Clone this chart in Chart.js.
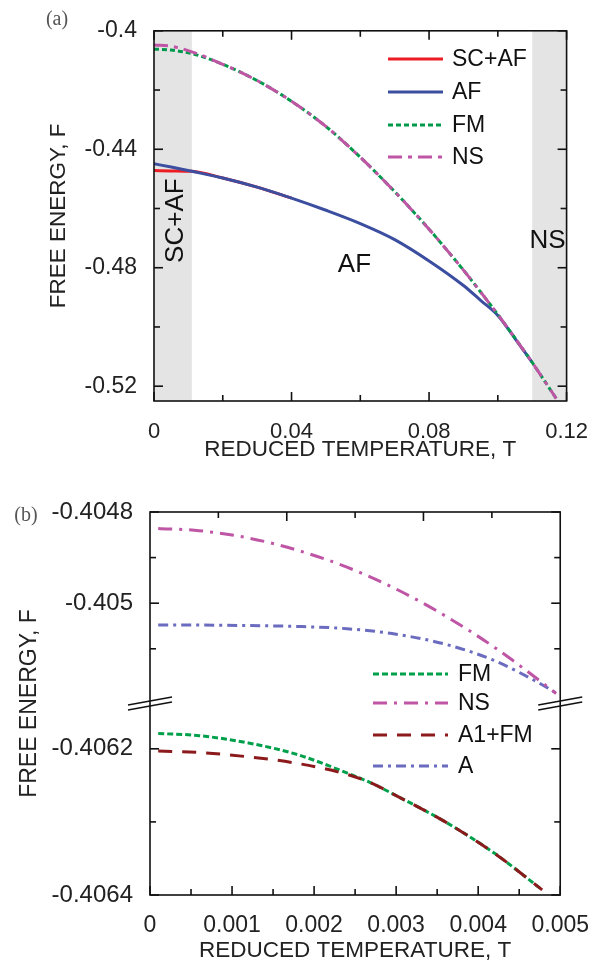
<!DOCTYPE html>
<html>
<head>
<meta charset="utf-8">
<script src="https://cdn.jsdelivr.net/npm/chart.js@4.4.0/dist/chart.umd.min.js"></script>
<style>
  html, body { margin: 0; padding: 0; background: #fff; overflow: hidden; width: 606px; height: 962px; }
  #wa { position: absolute; left: 0; top: 0; width: 606px; height: 470px; }
  #wb { position: absolute; left: 0; top: 478px; width: 606px; height: 490px; }
</style>
</head>
<body>
<div id="wa"><canvas id="ca"></canvas></div>
<div id="wb"><canvas id="cb"></canvas></div>
<script>
// ---- panel (a) data ----
const tA    = [0, 0.005, 0.011, 0.02, 0.03, 0.04, 0.05, 0.06, 0.07, 0.08, 0.09, 0.095, 0.10, 0.105, 0.11, 0.117];
const scafA = [-0.4472, -0.4473, -0.44745, -0.4497, -0.4528, -0.4565, null, null, null, null, null, null, null, null, null, null];
const afA   = [-0.4449, -0.4460, -0.44745, -0.4497, -0.4528, -0.4565, -0.4606, -0.4651, -0.4705, -0.4777, -0.4860, -0.4910, -0.4961, -0.5039, -0.5120, null];
const fmA   = [-0.4062, -0.4065, -0.4077, -0.4113, -0.4168, -0.4238, -0.4323, -0.4427, -0.4543, -0.4670, -0.4808, -0.4882, -0.4958, -0.5038, -0.5120, -0.5242];
const nsA   = [-0.4048, -0.4052, -0.4071, -0.4113, -0.4168, -0.4238, -0.4323, -0.4427, -0.4543, -0.4670, -0.4808, -0.4882, -0.4958, -0.5038, -0.5120, -0.5242];
const bandsA = [[0, 0.011], [0.11, 0.12]];

const xTicksA  = [0, 0.02, 0.04, 0.06, 0.08, 0.10, 0.12];
const xLabelsA = ['0', '', '0.04', '', '0.08', '', '0.12'];
const yTicksA  = [-0.52, -0.50, -0.48, -0.46, -0.44, -0.42, -0.40];
const yLabelsA = ['-0.52', '', '-0.48', '', '-0.44', '', '-0.4'];

// ---- panel (b) data ----
const tBu  = [0.0001, 0.0006, 0.0012, 0.0018, 0.0024, 0.003, 0.0036, 0.0042, 0.0048, 0.00495];
const nsB  = [-0.404836, -0.404841, -0.404857, -0.404884, -0.404921, -0.404969, -0.405028, -0.405097, -0.405177, -0.405198];
const aB   = [-0.405048, -0.405048, -0.405049, -0.405051, -0.405056, -0.405068, -0.405090, -0.405126, -0.405181, -0.405197];
const tBl  = [0.0001, 0.0006, 0.0012, 0.0018, 0.0024, 0.0027, 0.003, 0.0036, 0.0042, 0.00478];
const fmB  = [-0.406179, -0.406182, -0.406192, -0.406208, -0.406233, -0.406247, -0.406264, -0.406300, -0.406343, -0.406393];
const a1fmB = [-0.406203, -0.406205, -0.406211, -0.406220, -0.406235, -0.406247, -0.406264, -0.406300, -0.406343, -0.406393];

const xTicksB  = [0, 0.0005, 0.001, 0.0015, 0.002, 0.0025, 0.003, 0.0035, 0.004, 0.0045, 0.005];
const xLabelsB = ['0', '', '0.001', '', '0.002', '', '0.003', '', '0.004', '', '0.005'];
const xTopB    = [0.000833, 0.001667, 0.0025, 0.003333, 0.004167];
const xTopMajB = [false, true, false, true, false];
const yTicksBu  = [-0.4051, -0.405, -0.4049, -0.4048];
const yLabelsBu = ['', '-0.405', '', '-0.4048'];
const yTicksBl  = [-0.4064, -0.4063, -0.4062];
const yLabelsBl = ['-0.4064', '', '-0.4062'];

Chart.defaults.font.family = "'Liberation Sans', Arial, sans-serif";
Chart.defaults.color = '#222';

function pts(ts, fs) {
  return ts.map((t, i) => ({x: t, y: fs[i]})).filter(p => p.y !== null);
}
const line = {pointRadius: 0, borderWidth: 3, fill: false, cubicInterpolationMode: 'monotone', borderCapStyle: 'butt'};

function ticksOn(ctx, area, scale, vals, major, side) {
  vals.forEach((v, i) => {
    const len = major[i] ? 9 : 6;
    const p = scale.getPixelForValue(v);
    ctx.beginPath();
    if (side === 'bottom') { ctx.moveTo(p, area.bottom); ctx.lineTo(p, area.bottom - len); }
    if (side === 'top')    { ctx.moveTo(p, area.top);    ctx.lineTo(p, area.top + len); }
    if (side === 'left')   { ctx.moveTo(area.left, p);   ctx.lineTo(area.left + len, p); }
    if (side === 'right')  { ctx.moveTo(area.right, p);  ctx.lineTo(area.right - len, p); }
    ctx.stroke();
  });
}

function legendRows(ctx, datasets, x0, x1, xt, rows, size) {
  ctx.font = size + "px 'Liberation Sans', Arial, sans-serif";
  ctx.textAlign = 'left';
  ctx.textBaseline = 'middle';
  datasets.forEach((ds, i) => {
    ctx.save();
    ctx.strokeStyle = ds.borderColor;
    ctx.lineWidth = 3;
    ctx.setLineDash(ds.borderDash || []);
    ctx.beginPath();
    ctx.moveTo(x0, rows[i]);
    ctx.lineTo(x1, rows[i]);
    ctx.stroke();
    ctx.restore();
    ctx.fillStyle = '#111';
    ctx.fillText(ds.label, xt, rows[i] + 1);
  });
}

const deco = {
  id: 'deco',
  beforeDatasetsDraw(chart) {
    if (chart.canvas.id !== 'ca') return;
    const {ctx, chartArea: a, scales: {x}} = chart;
    ctx.save();
    ctx.fillStyle = '#e4e4e4';
    bandsA.forEach(b => {
      const x0 = x.getPixelForValue(b[0]), x1 = x.getPixelForValue(b[1]);
      ctx.fillRect(x0, a.top, x1 - x0, a.bottom - a.top);
    });
    ctx.restore();
  },
  afterDraw(chart) {
    const {ctx, chartArea: a, scales} = chart;
    ctx.save();
    ctx.strokeStyle = '#111';
    ctx.lineWidth = 1.6;
    ctx.strokeRect(a.left, a.top, a.right - a.left, a.bottom - a.top);
    if (chart.canvas.id === 'ca') {
      const xm = xLabelsA.map(l => l !== ''), ym = yLabelsA.map(l => l !== '');
      ticksOn(ctx, a, scales.x, xTicksA, xm, 'bottom');
      ticksOn(ctx, a, scales.x, xTicksA, xm, 'top');
      ticksOn(ctx, a, scales.y, yTicksA, ym, 'left');
      ticksOn(ctx, a, scales.y, yTicksA, ym, 'right');
      // region labels
      ctx.fillStyle = '#111';
      ctx.font = "26px 'Liberation Sans', Arial, sans-serif";
      ctx.textAlign = 'center';
      ctx.textBaseline = 'middle';
      ctx.save();
      ctx.translate(scales.x.getPixelForValue(0.0063), scales.y.getPixelForValue(-0.4641));
      ctx.rotate(-Math.PI / 2);
      ctx.fillText('SC+AF', 0, 0);
      ctx.restore();
      ctx.fillText('AF', scales.x.getPixelForValue(0.0583), scales.y.getPixelForValue(-0.479));
      ctx.textAlign = 'left';
      ctx.fillText('NS', scales.x.getPixelForValue(0.1092), scales.y.getPixelForValue(-0.4709));
      const ds = chart.data.datasets;
      legendRows(ctx, ds, 388, 443, 452, [59, 92, 125, 157], 23);
      ctx.fillStyle = '#555';
      ctx.font = "20px 'Liberation Serif', 'DejaVu Serif', serif";
      ctx.textAlign = 'center';
      ctx.fillText('(a)', 57, 20);
    } else {
      const xm = xLabelsB.map(l => l !== '');
      ticksOn(ctx, a, scales.x, xTicksB, xm, 'bottom');
      ticksOn(ctx, a, scales.x, xTopB, xTopMajB, 'top');
      const um = yLabelsBu.map(l => l !== ''), lm = yLabelsBl.map(l => l !== '');
      ticksOn(ctx, a, scales.yU, yTicksBu, um, 'left');
      ticksOn(ctx, a, scales.yU, yTicksBu, um, 'right');
      ticksOn(ctx, a, scales.yL, yTicksBl, lm, 'left');
      ticksOn(ctx, a, scales.yL, yTicksBl, lm, 'right');
      // axis break marks
      const yb = scales.yU.bottom;
      ctx.lineWidth = 1.6;
      [a.left, a.right].forEach(xc => {
        [-2.5, 2.5].forEach(d => {
          ctx.beginPath();
          ctx.moveTo(xc - 22, yb + d + 4);
          ctx.lineTo(xc + 22, yb + d - 4);
          ctx.stroke();
        });
      });
      // y title
      ctx.fillStyle = '#222';
      ctx.font = "23px 'Liberation Sans', Arial, sans-serif";
      ctx.textAlign = 'center';
      ctx.textBaseline = 'middle';
      ctx.save();
      ctx.translate(30, (a.top + a.bottom) / 2);
      ctx.rotate(-Math.PI / 2);
      ctx.fillText('FREE ENERGY, F', 0, 0);
      ctx.restore();
      const ds = chart.data.datasets;
      legendRows(ctx, [ds[1], ds[3], ds[0], ds[2]], 373, 448, 458, [196, 225, 257, 288], 23);
      ctx.fillStyle = '#555';
      ctx.font = "20px 'Liberation Serif', 'DejaVu Serif', serif";
      ctx.textAlign = 'center';
      ctx.fillText('(b)', 26, 38);
    }
    ctx.restore();
  }
};

function fixedTicks(vals) {
  return s => { s.ticks = vals.map(v => ({value: v})); };
}
const noGrid = {display: false, drawTicks: false};
const noBorder = {display: false};

new Chart(document.getElementById('ca'), {
  type: 'line',
  data: {
    datasets: [
      {label: 'SC+AF', data: pts(tA, scafA), borderColor: '#ec1c24', order: 3, ...line},
      {label: 'AF', data: pts(tA, afA), borderColor: '#3b4ea0', order: 2, ...line},
      {label: 'FM', data: pts(tA, fmA), borderColor: '#00994c', borderDash: [5, 3], order: 1, ...line},
      {label: 'NS', data: pts(tA, nsA), borderColor: '#c055a6', borderDash: [14, 6, 4, 6], order: 0, ...line}
    ]
  },
  options: {
    responsive: true,
    maintainAspectRatio: false,
    animation: false,
    layout: {padding: {left: 45, right: 36, top: 17, bottom: 7}},
    plugins: {legend: {display: false}, tooltip: {enabled: false}},
    scales: {
      x: {
        type: 'linear', min: 0, max: 0.12,
        grid: noGrid, border: noBorder,
        afterBuildTicks: fixedTicks(xTicksA),
        afterFit: s => { s.height = 62; },
        ticks: {autoSkip: false, maxRotation: 0, padding: 18, font: {size: 22}, callback: (v, i) => xLabelsA[i]},
        title: {display: true, text: 'REDUCED TEMPERATURE, T', font: {size: 22.5}, padding: 0}
      },
      y: {
        type: 'linear', min: -0.525, max: -0.4,
        grid: noGrid, border: noBorder,
        afterBuildTicks: fixedTicks(yTicksA),
        afterFit: s => { s.width = 109; },
        ticks: {autoSkip: false, padding: 17, font: {size: 23}, callback: (v, i) => yLabelsA[i]},
        title: {display: true, text: 'FREE ENERGY, F', font: {size: 22.5}, padding: 0}
      }
    }
  },
  plugins: [deco]
});

new Chart(document.getElementById('cb'), {
  type: 'line',
  data: {
    datasets: [
      {label: 'A1+FM', data: pts(tBl, a1fmB), yAxisID: 'yL', borderColor: '#8c1a1c', borderDash: [14, 10], order: 0, ...line},
      {label: 'FM', data: pts(tBl, fmB), yAxisID: 'yL', borderColor: '#00a04b', borderDash: [6, 3], order: 1, ...line},
      {label: 'A', data: pts(tBu, aB), yAxisID: 'yU', borderColor: '#6b6cc0', borderDash: [10, 5, 3, 5], order: 3, ...line},
      {label: 'NS', data: pts(tBu, nsB), yAxisID: 'yU', borderColor: '#bf55a5', borderDash: [14, 7, 3, 7], order: 2, ...line}
    ]
  },
  options: {
    responsive: true,
    maintainAspectRatio: false,
    animation: false,
    layout: {padding: {left: 0, right: 40, top: 34, bottom: 4}},
    plugins: {legend: {display: false}, tooltip: {enabled: false}},
    scales: {
      x: {
        type: 'linear', min: 0, max: 0.005,
        grid: noGrid, border: noBorder,
        afterBuildTicks: fixedTicks(xTicksB),
        afterFit: s => { s.height = 69; },
        ticks: {autoSkip: false, maxRotation: 0, padding: 17, font: {size: 23}, callback: (v, i) => xLabelsB[i]},
        title: {display: true, text: 'REDUCED TEMPERATURE, T', font: {size: 22.5}, padding: 0}
      },
      yL: {
        type: 'linear', position: 'left', stack: 'f', stackWeight: 191, weight: 1,
        min: -0.4064, max: -0.406138,
        grid: noGrid, border: noBorder,
        afterBuildTicks: fixedTicks(yTicksBl),
        afterFit: s => { s.width = 150; },
        ticks: {autoSkip: false, padding: 17, font: {size: 24}, callback: (v, i) => yLabelsBl[i]}
      },
      yU: {
        type: 'linear', position: 'left', stack: 'f', stackWeight: 191, weight: 2,
        min: -0.40522, max: -0.4048,
        grid: noGrid, border: noBorder,
        afterBuildTicks: fixedTicks(yTicksBu),
        afterFit: s => { s.width = 150; },
        ticks: {autoSkip: false, padding: 17, font: {size: 24}, callback: (v, i) => yLabelsBu[i]}
      }
    }
  },
  plugins: [deco]
});
</script>
</body>
</html>
